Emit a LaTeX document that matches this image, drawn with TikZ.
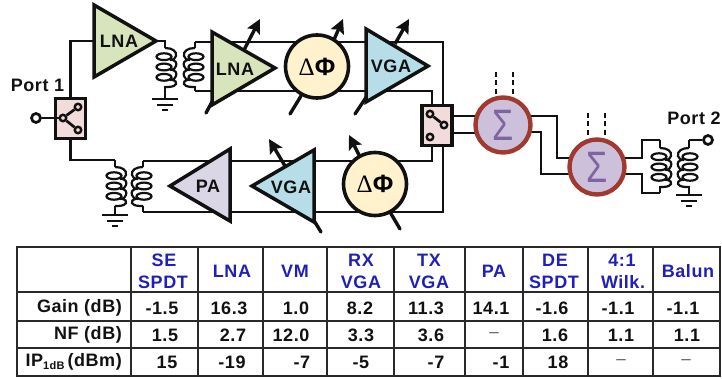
\documentclass[tikz,border=0pt]{standalone}
\usepackage{fontspec}
\setmainfont[LetterSpace=3]{Liberation Sans}
\newfontfamily\serifgreek{Liberation Serif}
\newfontfamily\plainsans{Liberation Sans}
\usetikzlibrary{arrows.meta}
\definecolor{lnagreen}{HTML}{D7E4BC}
\definecolor{vgablue}{HTML}{B7DEE8}
\definecolor{palilac}{HTML}{DAD6E6}
\definecolor{phaseyellow}{HTML}{FFF2CC}
\definecolor{switchpink}{HTML}{F2DCDB}
\definecolor{sumfill}{HTML}{CCC0DA}
\definecolor{sumring}{HTML}{A0392F}
\definecolor{sigmaink}{HTML}{8064A2}
\definecolor{headblue}{HTML}{2020B8}
\definecolor{ink}{HTML}{111111}
\tikzset{
  wire/.style={draw=ink,line width=2.7pt,line join=miter},
  coilline/.style={draw=ink,line width=2.2pt},
  amp/.style={draw=ink,line width=3.5pt,line join=miter},
  ctrl/.style={draw=ink,line width=3.4pt,line cap=round},
  ctrlarrow/.style={draw=ink,line width=3.4pt,-{Stealth[length=14pt,width=14pt,inset=2.5pt]}},
  lbl/.style={font=\fontsize{18}{18}\bfseries\selectfont,text=ink,inner sep=0pt},
  phase/.style={circle,draw=ink,line width=3.6pt,fill=phaseyellow,minimum size=63pt,inner sep=0pt},
  summer/.style={circle,draw=sumring,line width=4.4pt,fill=sumfill,minimum size=55pt,inner sep=0pt,text=sigmaink},
  switchbox/.style={draw=ink,line width=3.4pt,fill=switchpink,minimum width=30pt,minimum height=40pt,inner sep=0pt},
  contact/.style={circle,draw=ink,line width=2.4pt,fill=switchpink,minimum size=6.5pt,inner sep=0pt},
  port/.style={circle,draw=ink,line width=2.7pt,fill=white,minimum size=9pt,inner sep=0pt},
  dots/.style={draw=ink,line width=2.8pt,dash pattern=on 5pt off 3.5pt},
  grid/.style={draw=ink!90,line width=2.8pt},
  hd/.style={font=\fontsize{18}{18}\bfseries\selectfont,text=headblue,inner sep=0pt},
  cell/.style={font=\fontsize{18}{18}\bfseries\selectfont,text=ink,inner sep=0pt},
  rowlbl/.style={cell,anchor=east},
  nil/.style={font=\fontsize{17}{17}\selectfont,text=ink!70,inner sep=0pt}
}
\newcommand{\coilshape}[3]{%
  \begin{scope}[shift={(#1,#2)},xscale=#3]
    \draw[coilline] (-1,-10.3) ellipse [x radius=7.5,y radius=3.4];
    \draw[coilline] (-1,0) ellipse [x radius=7.5,y radius=3.4];
    \draw[coilline] (-1,10.3) ellipse [x radius=7.5,y radius=3.4];
    \draw[coilline] (0,-19) .. controls (7,-19) and (12,-16) .. (11,-11) .. controls (10.5,-8) and (8,-7) .. (5,-7);
    \draw[coilline] (5,-7.5) .. controls (11,-7) and (12,-4) .. (11,-1) .. controls (10.5,2) and (8,3) .. (5,3);
    \draw[coilline] (5,2.5) .. controls (11,3) and (12,6) .. (11,9) .. controls (10.5,12) and (8,13) .. (5,13);
    \draw[coilline] (5,12.5) .. controls (11,13) and (12,16) .. (11,17) .. controls (9,20) and (5,20) .. (0,20);
  \end{scope}}
\newcommand{\groundat}[2]{%
  \begin{scope}[shift={(#1,#2)}]
    \draw[wire] (-13,0) -- (13,0);
    \draw[wire] (-8,6) -- (8,6);
    \draw[wire] (-3,11) -- (3,11);
  \end{scope}}
\begin{document}
\begin{tikzpicture}[x=1pt,y=-1pt]
\useasboundingbox (0,0) rectangle (722,379);
% terminals
\coordinate (lnaOneIn) at (94,41);
\coordinate (lnaOneOut) at (156,41);
\coordinate (coilAtop) at (165,41);
\coordinate (coilAbot) at (165,99);
\coordinate (coilBtop) at (195,42);
\coordinate (coilBbot) at (195,91);
\coordinate (rxTopEnd) at (443,42);
\coordinate (rxBotEnd) at (432,91);
\coordinate (txTopEnd) at (432,161);
\coordinate (txBotEnd) at (443,212);
\coordinate (coilCtop) at (115,160);
\coordinate (coilCbot) at (115,215);
\coordinate (coilDtop) at (143,161);
\coordinate (coilDbot) at (143,212);
\coordinate (coilEtop) at (660,140);
\coordinate (coilEbot) at (660,193);
\coordinate (coilFtop) at (689,140);
\coordinate (coilFbot) at (689,195);
% switches and ports
\node[port] (portA) at (36,118) {};
\node[port] (portB) at (708,140) {};
\node[switchbox] (swA) at (70.5,118.5) {};
\node[switchbox] (swB) at (437,125.5) {};
% wires
\draw[wire] (lnaOneIn) -| (swA.north);
\draw[wire] (swA.south) |- (coilCtop);
\draw[wire] (lnaOneOut) -- (coilAtop) -- (165,48);
\draw[wire] (165,86) -- (coilAbot);
\draw[wire] (coilBtop) -- (195,48);
\draw[wire] (195,86) -- (coilBbot);
\draw[wire] (coilBtop) -- (rxTopEnd) -- (rxTopEnd |- swB.north);
\draw[wire] (coilBbot) -- (rxBotEnd) -- (rxBotEnd |- swB.north);
\draw[wire] (115,160) -- (115,167);
\draw[wire] (115,206) -- (coilCbot);
\draw[wire] (143,161) -- (143,167);
\draw[wire] (143,206) -- (coilDbot);
\draw[wire] (coilDtop) -- (txTopEnd) -- (txTopEnd |- swB.south);
\draw[wire] (coilDbot) -- (txBotEnd) -- (txBotEnd |- swB.south);
% coils and grounds
\coilshape{165}{67}{1}
\coilshape{195}{67}{-1}
\coilshape{115}{186}{1}
\coilshape{143}{186}{-1}
\groundat{165}{99}
\groundat{115}{215}
% switch A inside
\node[contact] (swAcom) at (63,118) {};
\node[contact] (swAup) at (78,107) {};
\node[contact] (swAdn) at (78,130) {};
\draw[wire] (portA) -- (swAcom);
\draw[wire] (swAcom) -- (swAup);
\draw[wire] (swAcom) -- (swAdn);
% switch B inside
\node[contact] (swBup) at (430,114) {};
\node[contact] (swBcom) at (444,125) {};
\node[contact] (swBdn) at (430,137) {};
\draw[wire] (swBup) -- (swBcom);
% control lines
\coordinate (ctrlA) at (206,113);
\coordinate (ctrlAin) at (213,100);
\draw[ctrl] (ctrlAin) -- (ctrlA);
\coordinate (arrAfrom) at (243,52);
\coordinate (arrAto) at (260,19);
\draw[ctrlarrow] (arrAfrom) -- (arrAto);
\coordinate (ctrlB) at (355,114);
\coordinate (ctrlBin) at (367,96);
\draw[ctrl] (ctrlBin) -- (ctrlB);
\coordinate (arrBfrom) at (395,44);
\coordinate (arrBto) at (409,19);
\draw[ctrlarrow] (arrBfrom) -- (arrBto);
\coordinate (arrTfrom) at (285,166);
\coordinate (arrTto) at (269,139);
\draw[ctrlarrow] (arrTfrom) -- (arrTto);
\coordinate (ctrlT) at (321,232);
\coordinate (ctrlTin) at (313,219);
\draw[ctrl] (ctrlTin) -- (ctrlT);
% amplifiers
\draw[amp,fill=lnagreen] (94,5) -- (94,77) -- (lnaOneOut) -- cycle;
\draw[amp,fill=lnagreen] (212,32) -- (212,105) -- (275,68) -- cycle;
\draw[amp,fill=vgablue] (366,29) -- (366,102) -- (428,66) -- cycle;
\draw[amp,fill=palilac] (230,149) -- (230,221) -- (170,186) -- cycle;
\draw[amp,fill=vgablue] (314,150) -- (314,222) -- (252,186) -- cycle;
\node[lbl] (tLnaOne) at (119,41) {LNA};
\node[lbl] (tLnaTwo) at (235,69) {LNA};
\node[lbl] (tVgaOne) at (391,66) {VGA};
\node[lbl] (tPa) at (208,186) {PA};
\node[lbl] (tVgaTwo) at (291,187) {VGA};
% phase shifters
\newcommand{\dphi}{{\fontsize{25}{25}\serifgreek\selectfont Δ\plainsans\bfseries Φ}}
\coordinate (phACtrl) at (290,114);
\coordinate (phAArr) at (343,19);
\coordinate (phBCtrl) at (400,229);
\coordinate (phBArr) at (349,135);
\draw[ctrl] (301,96) -- (phACtrl);
\draw[ctrlarrow] (333,42) -- (phAArr);
\draw[ctrl] (390,212) -- (phBCtrl);
\draw[ctrlarrow] (360,157) -- (phBArr);
\node[phase] (phA) at (317,66.5) {\dphi};
\node[phase] (phB) at (375,184) {\dphi};
% combiners
\coordinate (sumAtopL) at (496,72);
\coordinate (sumAtopR) at (513,72);
\coordinate (sumBtopL) at (588,113);
\coordinate (sumBtopR) at (605,113);
\draw[dots] (sumAtopL) -- (496,96);
\draw[dots] (sumAtopR) -- (513,96);
\draw[dots] (sumBtopL) -- (588,138);
\draw[dots] (sumBtopR) -- (605,138);
\draw[wire] (453,116) -- (480,116);
\draw[wire] (453,133) -- (480,133);
\draw[wire] (530,116) -- (557,116) -- (557,158) -- (572,158);
\draw[wire] (530,132) -- (541,132) -- (541,174) -- (572,174);
\draw[wire] (622,158) -- (642,158) -- (642,140) -- (coilEtop);
\draw[wire] (622,174) -- (642,174) -- (642,193) -- (coilEbot);
\node[summer] (sumA) at (503,125) {\fontsize{44}{44}\plainsans\selectfont\scalebox{.78}[1]{Σ}};
\node[summer] (sumB) at (597,167) {\fontsize{44}{44}\plainsans\selectfont\scalebox{.78}[1]{Σ}};
% balun
\draw[wire] (coilFtop) -- (portB);
\draw[wire] (coilFtop) -- (689,148);
\draw[wire] (660,140) -- (660,148);
\draw[wire] (660,186) -- (coilEbot);
\draw[wire] (689,186) -- (coilFbot);
\coilshape{660}{167}{1}
\coilshape{689}{167}{-1}
\groundat{689}{195}
\node[lbl] (portAtxt) at (37.5,85) {Port 1};
\node[lbl] (portBtxt) at (694,118.5) {Port 2};
% table
\draw[grid] (17,247) rectangle (720,376);
\foreach \xx in {131,198,263,327,394,465,523,588,653} \draw[grid] (\xx,247) -- (\xx,376);
\foreach \yy in {292,321,348} \draw[grid] (17,\yy) -- (720,\yy);
\node[hd] (h1a) at (164,260) {SE};
\node[hd] (h1b) at (163,282) {SPDT};
\node[hd] (h2) at (232,271) {LNA};
\node[hd] (h3) at (295,271) {VM};
\node[hd] (h4a) at (361,260) {RX};
\node[hd] (h4b) at (361,282) {VGA};
\node[hd] (h5a) at (429,260) {TX};
\node[hd] (h5b) at (429,282) {VGA};
\node[hd] (h6) at (494,271) {PA};
\node[hd] (h7a) at (555,260) {DE};
\node[hd] (h7b) at (554,282) {SPDT};
\node[hd] (h8a) at (622,260) {4:1};
\node[hd] (h8b) at (623,282) {Wilk.};
\node[hd] (h9) at (688,271) {Balun};
\node[rowlbl] (rGain) at (122,308) {Gain (dB)};
\node[rowlbl] (rNf) at (122,335) {NF (dB)};
\node[rowlbl] (rIp) at (122,362) {IP\raisebox{-3pt}{\fontsize{11}{11}\selectfont 1dB}\,(dBm)};
\node[cell] (g1) at (162,308) {-1.5};
\node[cell] (g2) at (229,308) {16.3};
\node[cell] (g3) at (296,308) {1.0};
\node[cell] (g4) at (360,308) {8.2};
\node[cell] (g5) at (426,308) {11.3};
\node[cell] (g6) at (491,308) {14.1};
\node[cell] (g7) at (552,308) {-1.6};
\node[cell] (g8) at (618,308) {-1.1};
\node[cell] (g9) at (683,308) {-1.1};
\node[cell] (n1) at (165,335) {1.5};
\node[cell] (n2) at (233,335) {2.7};
\node[cell] (n3) at (291,335) {12.0};
\node[cell] (n4) at (361,335) {3.3};
\node[cell] (n5) at (431,335) {3.6};
\node[nil] (n6) at (494,335) {–};
\node[cell] (n7) at (555,335) {1.6};
\node[cell] (n8) at (621,335) {1.1};
\node[cell] (n9) at (687,335) {1.1};
\node[cell] (i1) at (167,362) {15};
\node[cell] (i2) at (232,362) {-19};
\node[cell] (i3) at (302,362) {-7};
\node[cell] (i4) at (361,362) {-5};
\node[cell] (i5) at (436,362) {-7};
\node[cell] (i6) at (501,362) {-1};
\node[cell] (i7) at (558,362) {18};
\node[nil] (i8) at (621,362) {–};
\node[nil] (i9) at (686,362) {–};
\end{tikzpicture}
\end{document}
